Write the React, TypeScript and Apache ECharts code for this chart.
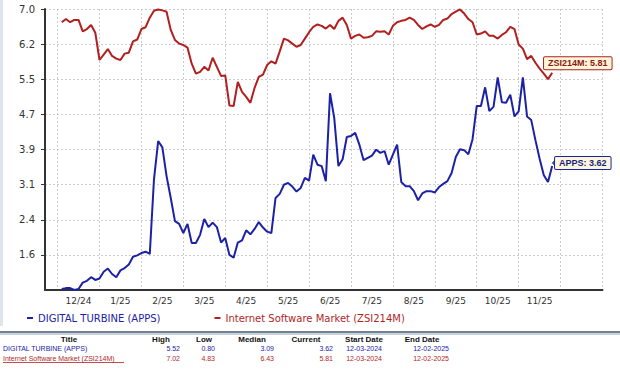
import React, { useEffect, useRef } from "react";
import * as echarts from "echarts";

// ---- data ----
const monthLabels = ["12/24", "1/25", "2/25", "3/25", "4/25", "5/25", "6/25", "7/25", "8/25", "9/25", "10/25", "11/25"];

// Internet Software Market (ZSI214M), sampled every ~2.7 trading days from 12-03-2024
const zsi = [
  6.71, 6.78, 6.71, 6.76, 6.76, 6.51, 6.56, 6.65, 6.48, 5.88,
  6.0, 6.12, 5.97, 5.91, 5.88, 6.02, 6.04, 6.29, 6.33, 6.56,
  6.6, 6.81, 6.96, 6.99, 6.97, 6.94, 6.54, 6.32, 6.24, 6.21,
  6.15, 5.8, 5.58, 5.62, 5.73, 5.65, 5.93, 5.73, 5.53, 5.54,
  4.88, 4.87, 5.4, 5.18, 5.07, 4.94, 5.27, 5.51, 5.56, 5.77,
  5.85, 5.8, 6.07, 6.35, 6.31, 6.24, 6.17, 6.21, 6.35, 6.49,
  6.61, 6.66, 6.63, 6.57, 6.65, 6.56, 6.74, 6.81, 6.65, 6.35,
  6.41, 6.44, 6.37, 6.38, 6.41, 6.51, 6.5, 6.51, 6.44, 6.63,
  6.71, 6.74, 6.76, 6.81, 6.76, 6.65, 6.56, 6.62, 6.66, 6.61,
  6.65, 6.76, 6.79, 6.89, 6.94, 6.99, 6.9, 6.78, 6.71, 6.44,
  6.46, 6.51, 6.41, 6.41, 6.35, 6.43, 6.49, 6.61, 6.56, 6.22,
  6.13, 5.9, 5.97, 5.82, 5.69, 5.58, 5.46, 5.6,
];

// DIGITAL TURBINE (APPS)
const apps = [
  0.85, 0.87, 0.87, 0.83, 0.85, 0.99, 1.03, 1.11, 1.05, 1.08,
  1.23, 1.3, 1.18, 1.11, 1.26, 1.31, 1.39, 1.56, 1.59, 1.64,
  1.67, 1.62, 3.26, 4.1, 3.96, 3.33, 2.85, 2.34, 2.28, 2.08,
  2.28, 1.86, 1.86, 2.04, 2.39, 2.21, 2.31, 2.21, 1.87, 1.97,
  1.6, 1.54, 1.87, 1.92, 2.14, 2.05, 2.17, 2.32, 2.2, 2.11,
  2.08, 2.85, 2.94, 3.14, 3.18, 3.1, 2.99, 3.07, 3.29, 3.23,
  3.8, 3.58, 3.55, 3.22, 5.15, 4.61, 3.55, 3.7, 4.19, 4.21,
  4.28, 4.02, 3.68, 3.73, 3.78, 3.91, 3.84, 3.88, 3.58, 3.8,
  4.02, 3.2, 3.11, 3.11, 3.0, 2.8, 2.95, 3.0, 3.0, 2.97,
  3.09, 3.16, 3.22, 3.4, 3.75, 3.92, 3.9, 3.81, 4.14, 4.87,
  4.87, 5.28, 4.76, 4.85, 5.5, 4.95, 4.94, 5.12, 4.64, 4.75,
  5.5, 4.64, 4.56, 4.12, 3.71, 3.35, 3.2, 3.55,
];

const seriesNames = ["DIGITAL TURBINE (APPS)", "Internet Software Market (ZSI214M)"];
const shortNames = ["APPS", "ZSI214M"];
const tableHeaders = ["Title", "High", "Low", "Median", "Current", "Start Date", "End Date"];
const highs = ["5.52", "7.02"];
const lows = ["0.80", "4.83"];
const medians = ["3.09", "6.43"];
const currents = ["3.62", "5.81"];
const startDates = ["12-03-2024", "12-03-2024"];
const endDates = ["12-02-2025", "12-02-2025"];

const yMax = 7.0;
const yStep = 0.7714;

// axis slots: 10 slots per month, data begins 4 slots after the left edge
const slotsPerMonth = 10;
const totalSlots = 134;
const firstMonthSlot = 3;
const dataStartSlot = 4;

const BLUE = "#1c22a6";
const RED = "#b11f1f";
const FONT = "DejaVu Sans";
const TFONT = "Liberation Sans";

export default function App() {
  const ref = useRef<HTMLDivElement>(null);

  useEffect(() => {
    document.body.style.margin = "0";
    if (!ref.current) return;
    const chart = echarts.init(ref.current, undefined, { renderer: "svg" });

    const categories = Array.from({ length: totalSlots }, (_, i) => {
      const k = (i - firstMonthSlot - slotsPerMonth / 2) / slotsPerMonth;
      return Number.isInteger(k) && k >= 0 && k < monthLabels.length ? monthLabels[k] : "";
    });
    const pad = Array(dataStartSlot).fill("-");
    const lastSlot = dataStartSlot + apps.length - 1;

    const colX = [69, 161, 204, 252, 306, 364, 422];
    const valRight = [180, 215, 274, 333, 382, 449];
    const rowsY = [348.5, 358.5];
    const rowColors = [BLUE, RED];
    const graphics: any[] = [
      { type: "rect", shape: { x: 0, y: 0, width: 3, height: 326 }, style: { fill: "#dde5ee" } },
      { type: "rect", shape: { x: 0, y: 331, width: 620, height: 2 }, style: { fill: "#738191" } },
      { type: "rect", shape: { x: 0, y: 333, width: 620, height: 2 }, style: { fill: "#c8d2dc" } },
    ];
    tableHeaders.forEach((h, i) => {
      graphics.push({
        type: "text",
        x: colX[i],
        y: 339,
        style: { text: h, fill: "#111", font: `bold 8px "${TFONT}"`, textAlign: "center", textVerticalAlign: "middle" },
      });
    });
    [0, 1].forEach((r) => {
      graphics.push({
        type: "text",
        x: 3,
        y: rowsY[r],
        style: { text: seriesNames[r], fill: rowColors[r], font: `7px "${TFONT}"`, textAlign: "left", textVerticalAlign: "middle" },
      });
      const vals = [highs[r], lows[r], medians[r], currents[r], startDates[r], endDates[r]];
      vals.forEach((v, j) => {
        graphics.push({
          type: "text",
          x: valRight[j],
          y: rowsY[r],
          style: { text: v, fill: rowColors[r], font: `7px "${TFONT}"`, textAlign: "right", textVerticalAlign: "middle" },
        });
      });
    });
    graphics.push({ type: "line", shape: { x1: 3, y1: 362.5, x2: 124, y2: 362.5 }, style: { stroke: RED, lineWidth: 0.8 } });

    const makeMark = (idx: number, color: string, offsetX: number, dist: number) => ({
      silent: true,
      animation: false,
      data: [
        {
          coord: [lastSlot, Number(currents[idx])],
          symbol: "triangle",
          symbolRotate: 90,
          symbolSize: [11, 5],
          symbolOffset: [offsetX, 0],
          itemStyle: { color: "#fdf6d8", borderColor: color, borderWidth: 1 },
          label: {
            show: true,
            position: "right",
            distance: dist,
            formatter: `${shortNames[idx]}: ${currents[idx]}`,
            backgroundColor: "#fdf6d8",
            borderColor: color,
            borderWidth: 1,
            borderRadius: 1,
            padding: [2, 4, 1, 4],
            color: idx === 0 ? "#1a1f8a" : "#8e1616",
            fontWeight: "bold",
            fontSize: 9,
            fontFamily: TFONT,
          },
        },
      ],
    });

    chart.setOption({
      animation: false,
      backgroundColor: "#ffffff",
      grid: { left: 45, top: 9, width: 557.5, height: 281, containLabel: false },
      legend: {
        left: 22,
        top: 308,
        icon: "rect",
        itemWidth: 6,
        itemHeight: 2,
        itemGap: 54,
        textStyle: { fontSize: 10, fontFamily: FONT },
        data: [
          { name: seriesNames[0], textStyle: { color: BLUE } },
          { name: seriesNames[1], textStyle: { color: RED } },
        ],
      },
      xAxis: {
        type: "category",
        data: categories,
        boundaryGap: false,
        axisLine: { lineStyle: { color: "#333", width: 2 } },
        axisTick: { show: false },
        axisLabel: {
          interval: (i: number) => categories[i] !== "",
          color: "#333",
          fontSize: 9,
          fontFamily: FONT,
          margin: 6,
        },
        splitLine: {
          show: true,
          interval: (i: number) => i >= firstMonthSlot && (i - firstMonthSlot) % slotsPerMonth === 0,
          lineStyle: { color: "#cccccc", type: [2, 2], width: 1 },
        },
      },
      yAxis: {
        type: "value",
        min: yMax - 8 * yStep,
        max: yMax,
        interval: yStep,
        axisLine: { show: true, lineStyle: { color: "#333", width: 2 } },
        axisTick: { show: true, length: 4, lineStyle: { color: "#333" } },
        axisLabel: {
          formatter: (v: number) => v.toFixed(1),
          showMinLabel: false,
          color: "#333",
          fontSize: 10,
          fontFamily: FONT,
          margin: 10,
        },
        splitLine: { lineStyle: { color: "#cccccc", type: [2, 2], width: 1 } },
      },
      series: [
        {
          name: seriesNames[1],
          type: "line",
          data: [...pad, ...zsi],
          showSymbol: false,
          symbol: "none",
          color: RED,
          lineStyle: { color: RED, width: 2 },
          markPoint: makeMark(1, RED, -6, -5),
          z: 2,
        },
        {
          name: seriesNames[0],
          type: "line",
          data: [...pad, ...apps],
          showSymbol: false,
          symbol: "none",
          color: BLUE,
          lineStyle: { color: BLUE, width: 2 },
          markPoint: makeMark(0, BLUE, 3, -3),
          z: 3,
        },
      ],
      graphic: graphics,
    });

    return () => chart.dispose();
  }, []);

  return <div ref={ref} style={{ width: 620, height: 378, position: "absolute", left: 0, top: 0 }} />;
}
